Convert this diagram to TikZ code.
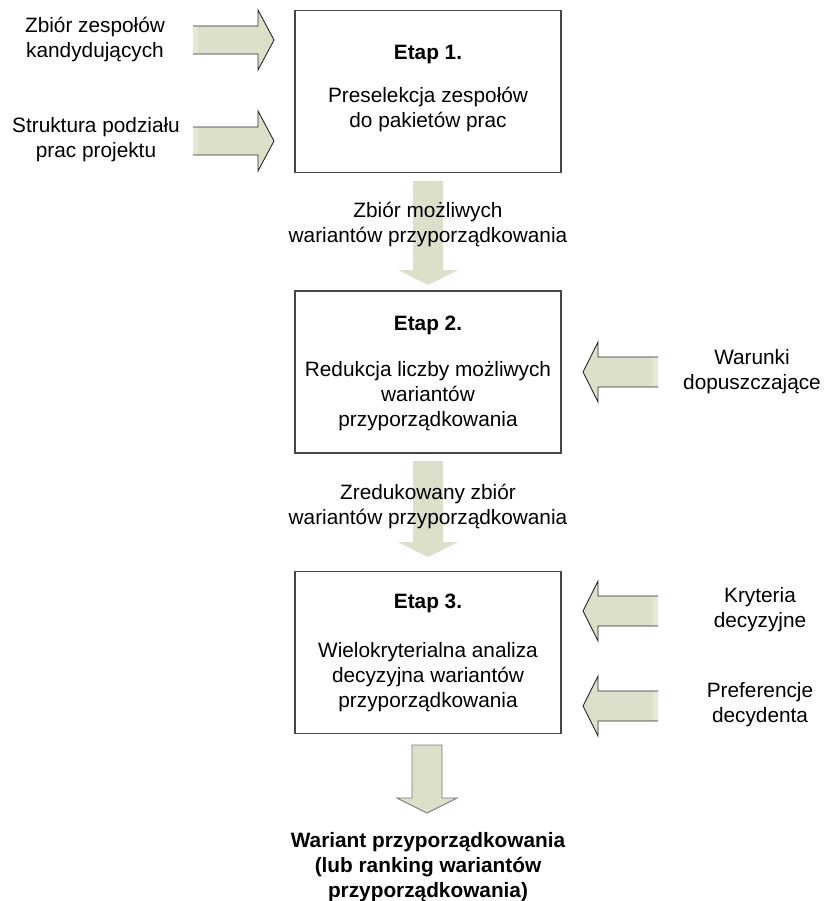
\documentclass[tikz,border=0pt]{standalone}
\usepackage{fontspec}
\setmainfont{Liberation Sans}
\definecolor{arrowgreen}{RGB}{220,224,203}
\definecolor{arrowtail}{RGB}{230,233,216}
\definecolor{edgegray}{RGB}{40,40,40}
\definecolor{boxline}{RGB}{70,70,70}
\definecolor{finaledge}{RGB}{120,120,120}

% block arrow pointing down: centre x, top y, tip y
\newcommand\blockdown[3]{(#1-15,#2) -- (#1+15,#2) -- (#1+15,#3-15) -- (#1+30,#3-15) -- (#1,#3) -- (#1-30,#3-15) -- (#1-15,#3-15) -- cycle}
% block arrow pointing right (tail x, tip x, centre y): filled body, outline without tail edge, tail strip
\newcommand\blockright[3]{%
  \fill[arrowgreen] (#1,#3-14) -- (#2-16,#3-14) -- (#2-16,#3-30) -- (#2,#3) -- (#2-16,#3+30) -- (#2-16,#3+14) -- (#1,#3+14) -- cycle;
  \fill[arrowtail] (#1,#3-14) rectangle (#1+5,#3+14);
  \draw[arrowedge] (#1,#3-14) -- (#2-16,#3-14) -- (#2-16,#3-30) -- (#2,#3) -- (#2-16,#3+30) -- (#2-16,#3+14) -- (#1,#3+14);}
% block arrow pointing left (tail x, tip x, centre y)
\newcommand\blockleft[3]{%
  \fill[arrowgreen] (#1,#3-15) -- (#2+15,#3-15) -- (#2+15,#3-30) -- (#2,#3) -- (#2+15,#3+30) -- (#2+15,#3+15) -- (#1,#3+15) -- cycle;
  \fill[arrowtail] (#1-5,#3-15) rectangle (#1,#3+15);
  \draw[arrowedge] (#1,#3-15) -- (#2+15,#3-15) -- (#2+15,#3-30) -- (#2,#3) -- (#2+15,#3+30) -- (#2+15,#3+15) -- (#1,#3+15);}

\begin{document}
\begin{tikzpicture}[x=1pt,y=-1pt,
  txt/.style={font=\fontsize{20.8}{25}\selectfont, align=center, inner sep=0pt},
  boldtxt/.style={font=\fontsize{20.8}{25}\selectfont\bfseries, align=center, inner sep=0pt},
  stage/.style={draw=boxline, line width=1.3pt, fill=white, inner sep=0pt,
                minimum width=266pt, minimum height=162pt},
  arrowedge/.style={draw=edgegray, line width=0.9pt, line join=miter},
]
\useasboundingbox (0,0) rectangle (823,901);

% stage boxes
\node[stage] (b1) at (428,91.5) {};
\node[stage] (b2) at (428,372) {};
\node[stage] (b3) at (428,652.5) {};

% arrows between the stages and the final output arrow
\fill[arrowgreen] \blockdown{428}{181}{285};
\fill[arrowgreen] \blockdown{428}{461}{557};
\filldraw[fill=arrowgreen, draw=finaledge, line width=0.9pt] \blockdown{427}{745}{813};

% input arrows
\blockright{193}{274}{40}
\blockright{193}{274}{141}
\blockleft{658}{583}{372}
\blockleft{658}{583}{611}
\blockleft{658}{583}{706}

% stage texts
\node[boldtxt] (e1) at (428,55) {Etap 1.};
\node[txt] (t1) at (428,110) {Preselekcja zespołów\\do pakietów prac};
\node[boldtxt] (e2) at (428,325) {Etap 2.};
\node[txt] (t2) at (428,396) {Redukcja liczby możliwych\\wariantów\\przyporządkowania};
\node[boldtxt] (e3) at (428,603) {Etap 3.};
\node[txt] (t3) at (428,677) {Wielokryterialna analiza\\decyzyjna wariantów\\przyporządkowania};

% inputs
\node[txt] (in1) at (95,40) {Zbiór zespołów\\kandydujących};
\node[txt] (in2) at (96,140) {Struktura podziału\\prac projektu};
\node[txt] (in3) at (752,372) {Warunki\\dopuszczające};
\node[txt] (in4) at (760,610) {Kryteria\\decyzyjne};
\node[txt] (in5) at (760,705) {Preferencje\\decydenta};

% intermediate results
\node[txt] (r1) at (428,225) {Zbiór możliwych\\wariantów przyporządkowania};
\node[txt] (r2) at (428,507) {Zredukowany zbiór\\wariantów przyporządkowania};

% final result
\node[boldtxt] (out) at (428,867) {Wariant przyporządkowania\\(lub ranking wariantów\\przyporządkowania)};
\end{tikzpicture}
\end{document}
